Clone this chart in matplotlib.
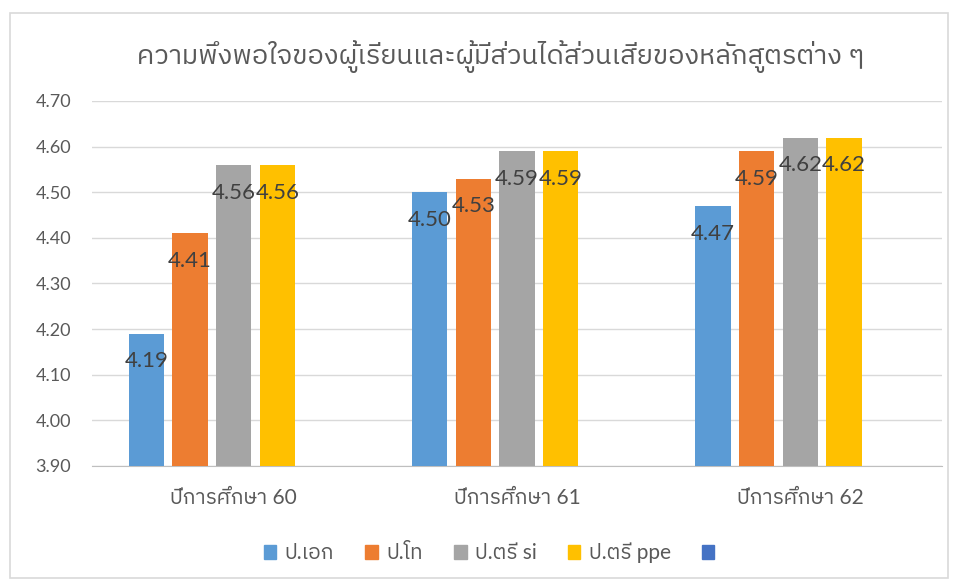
import numpy as np
import matplotlib
matplotlib.use("Agg")
from matplotlib import pyplot as plt
from matplotlib.patches import Rectangle, Patch

plt.rcParams['font.family'] = ['Lato', 'IBM Plex Sans Thai', 'DejaVu Sans']

title = "ความพึงพอใจของผู้เรียนและผู้มีส่วนได้ส่วนเสียของหลักสูตรต่าง ๆ"
categories = ["ปีการศึกษา 60", "ปีการศึกษา 61", "ปีการศึกษา 62"]
series_names = ["ป.เอก", "ป.โท", "ป.ตรี si", "ป.ตรี ppe", ""]
phd = [4.19, 4.50, 4.47]
master = [4.41, 4.53, 4.59]
bach_si = [4.56, 4.59, 4.62]
bach_ppe = [4.56, 4.59, 4.62]
empty = [np.nan, np.nan, np.nan]
colors = ["#5B9BD5", "#ED7D31", "#A5A5A5", "#FFC000", "#4472C4"]

fig = plt.figure(figsize=(9.58, 5.83), dpi=100)
fig.patches.append(Rectangle((10/958, 5/583), 938/958, 565/583, transform=fig.transFigure,
                             fill=False, edgecolor="#D9D9D9", linewidth=1.2))
ax = fig.add_axes([92/958, 117/583, 850/958, 365/583])

x = np.arange(len(categories))
step = 0.154
w = 0.124
all_series = [phd, master, bach_si, bach_ppe, empty]
for i, vals in enumerate(all_series):
    bars = ax.bar(x + (i - 2) * step, vals, width=w, color=colors[i], zorder=3)
    if i < 4:
        for b, v in zip(bars, vals):
            ax.annotate("%.2f" % v, (b.get_x() + b.get_width() / 2, v),
                        xytext=(0, -20), textcoords="offset points",
                        ha="center", va="center", fontsize=16, color="#404040", zorder=4)

ax.set_ylim(3.9, 4.7)
ax.set_yticks(np.arange(3.9, 4.71, 0.1))
ax.set_yticklabels(["%.2f" % t for t in np.arange(3.9, 4.71, 0.1)])
ax.set_xlim(-0.5, 2.5)
ax.set_xticks(x)
ax.set_xticklabels(categories)
ax.tick_params(axis="both", length=0, labelsize=13, colors="#595959")
ax.tick_params(axis="x", pad=16, labelsize=15)
ax.tick_params(axis="y", pad=15)
ax.grid(axis="y", color="#D9D9D9", linewidth=1, zorder=0)
for s in ["top", "right", "left"]:
    ax.spines[s].set_visible(False)
ax.spines["bottom"].set_color("#BFBFBF")

fig.text(0.523, 1 - 57/583, title, ha="center", va="center", fontsize=19.5, color="#595959")

handles = [Patch(color=c) for c in colors]
fig.legend(handles, series_names, loc="center", bbox_to_anchor=(0.515, 1 - 553/583), ncol=5,
           frameon=False, fontsize=15, handlelength=0.6, handleheight=0.6,
           handletextpad=0.4, columnspacing=1.5, labelcolor="#595959")

fig.savefig("out.png", dpi=100)
